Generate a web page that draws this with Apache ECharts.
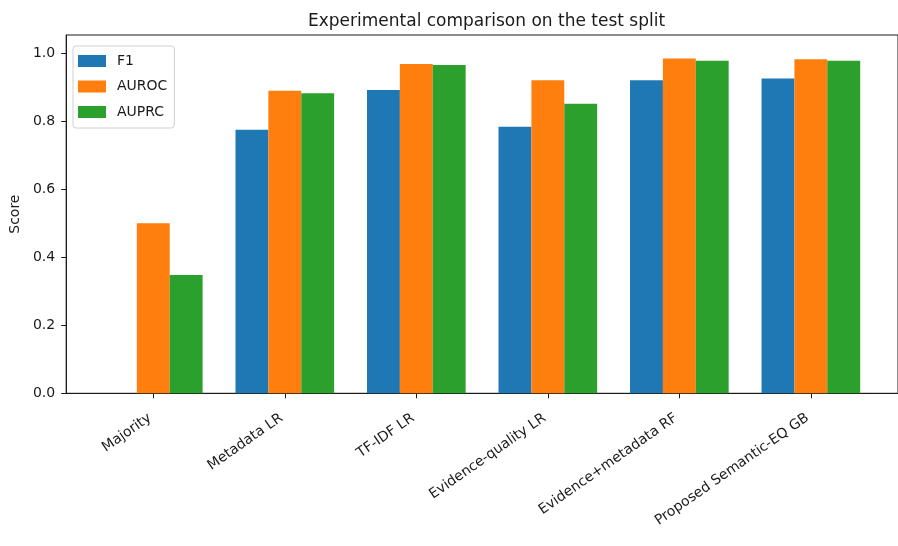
<!DOCTYPE html>
<html>
<head>
<meta charset="utf-8">
<script src="https://cdn.jsdelivr.net/npm/echarts@6/dist/echarts.min.js"></script>
<style>
  html, body { margin: 0; padding: 0; background: #fff; }
  #chart { width: 898px; height: 546px; }
</style>
</head>
<body>
<div id="chart"></div>
<script>
// Models compared on the test split
const categories = [
  'Majority',
  'Metadata LR',
  'TF-IDF LR',
  'Evidence-quality LR',
  'Evidence+metadata RF',
  'Proposed Semantic-EQ GB'
];
const metricNames = ['F1', 'AUROC', 'AUPRC'];
const f1Scores    = [0.000, 0.775, 0.892, 0.784, 0.921, 0.926];
const aurocScores = [0.500, 0.890, 0.969, 0.921, 0.985, 0.983];
const auprcScores = [0.348, 0.883, 0.966, 0.852, 0.978, 0.978];
const yTickValues = [0, 0.2, 0.4, 0.6, 0.8, 1.0];

const colors = ['#1f77b4', '#ff7f0e', '#2ca02c'];
const FONT = 'DejaVu Sans';
const INK = '#1a1a1a';

function toPoints(values) {
  return values.map((v, i) => [i, v]);
}

function barSeries(name, values, color) {
  return {
    name: name,
    type: 'bar',
    data: toPoints(values),
    barWidth: '25%',
    barGap: '0%',
    itemStyle: { color: color },
    emphasis: { disabled: true }
  };
}

const chart = echarts.init(document.getElementById('chart'), null, { renderer: 'canvas' });

chart.setOption({
  animation: false,
  backgroundColor: '#fff',
  color: colors,
  textStyle: { fontFamily: FONT },
  title: {
    text: 'Experimental comparison on the test split',
    left: 308,
    top: 13,
    padding: 0,
    textStyle: { fontFamily: FONT, fontSize: 17, fontWeight: 'normal', color: INK }
  },
  legend: {
    data: metricNames,
    orient: 'vertical',
    left: 73,
    top: 46,
    padding: [7, 7, 8, 5],
    itemWidth: 28,
    itemHeight: 12,
    itemGap: 9.5,
    icon: 'rect',
    backgroundColor: 'rgba(255,255,255,0.8)',
    borderColor: '#d0d0d0',
    borderWidth: 1,
    borderRadius: 3,
    textStyle: {
      fontFamily: FONT,
      fontSize: 14,
      lineHeight: 16,
      color: INK,
      padding: [0, 0, 0, 6]
    }
  },
  grid: {
    left: 65,
    top: 35,
    right: -10.7,
    bottom: 152.7,
    show: true,
    borderColor: INK,
    borderWidth: 1,
    containLabel: false
  },
  xAxis: {
    type: 'value',
    min: -0.6625,
    max: 5.6625,
    splitLine: { show: false },
    axisLine: { show: true, onZero: false, lineStyle: { color: INK, width: 1 } },
    axisTick: {
      show: true,
      length: 5,
      customValues: [0, 1, 2, 3, 4, 5],
      lineStyle: { color: INK }
    },
    axisLabel: {
      customValues: [0, 1, 2, 3, 4, 5],
      formatter: (v) => categories[Math.round(v)],
      rotate: 35,
      margin: 21,
      padding: [0, 4, 0, 0],
      fontFamily: FONT,
      fontSize: 14,
      color: INK
    }
  },
  yAxis: {
    type: 'value',
    min: 0,
    max: 1.054,
    name: 'Score',
    nameLocation: 'middle',
    nameGap: 30,
    nameTextStyle: { fontFamily: FONT, fontSize: 14, color: INK },
    splitLine: { show: false },
    axisLine: { show: true, onZero: false, lineStyle: { color: INK, width: 1 } },
    axisTick: {
      show: true,
      length: 5,
      customValues: yTickValues,
      lineStyle: { color: INK }
    },
    axisLabel: {
      customValues: yTickValues,
      formatter: (v) => v.toFixed(1),
      margin: 11,
      fontFamily: FONT,
      fontSize: 14,
      color: INK
    }
  },
  series: [
    barSeries(metricNames[0], f1Scores, colors[0]),
    barSeries(metricNames[1], aurocScores, colors[1]),
    barSeries(metricNames[2], auprcScores, colors[2])
  ]
});
</script>
</body>
</html>
